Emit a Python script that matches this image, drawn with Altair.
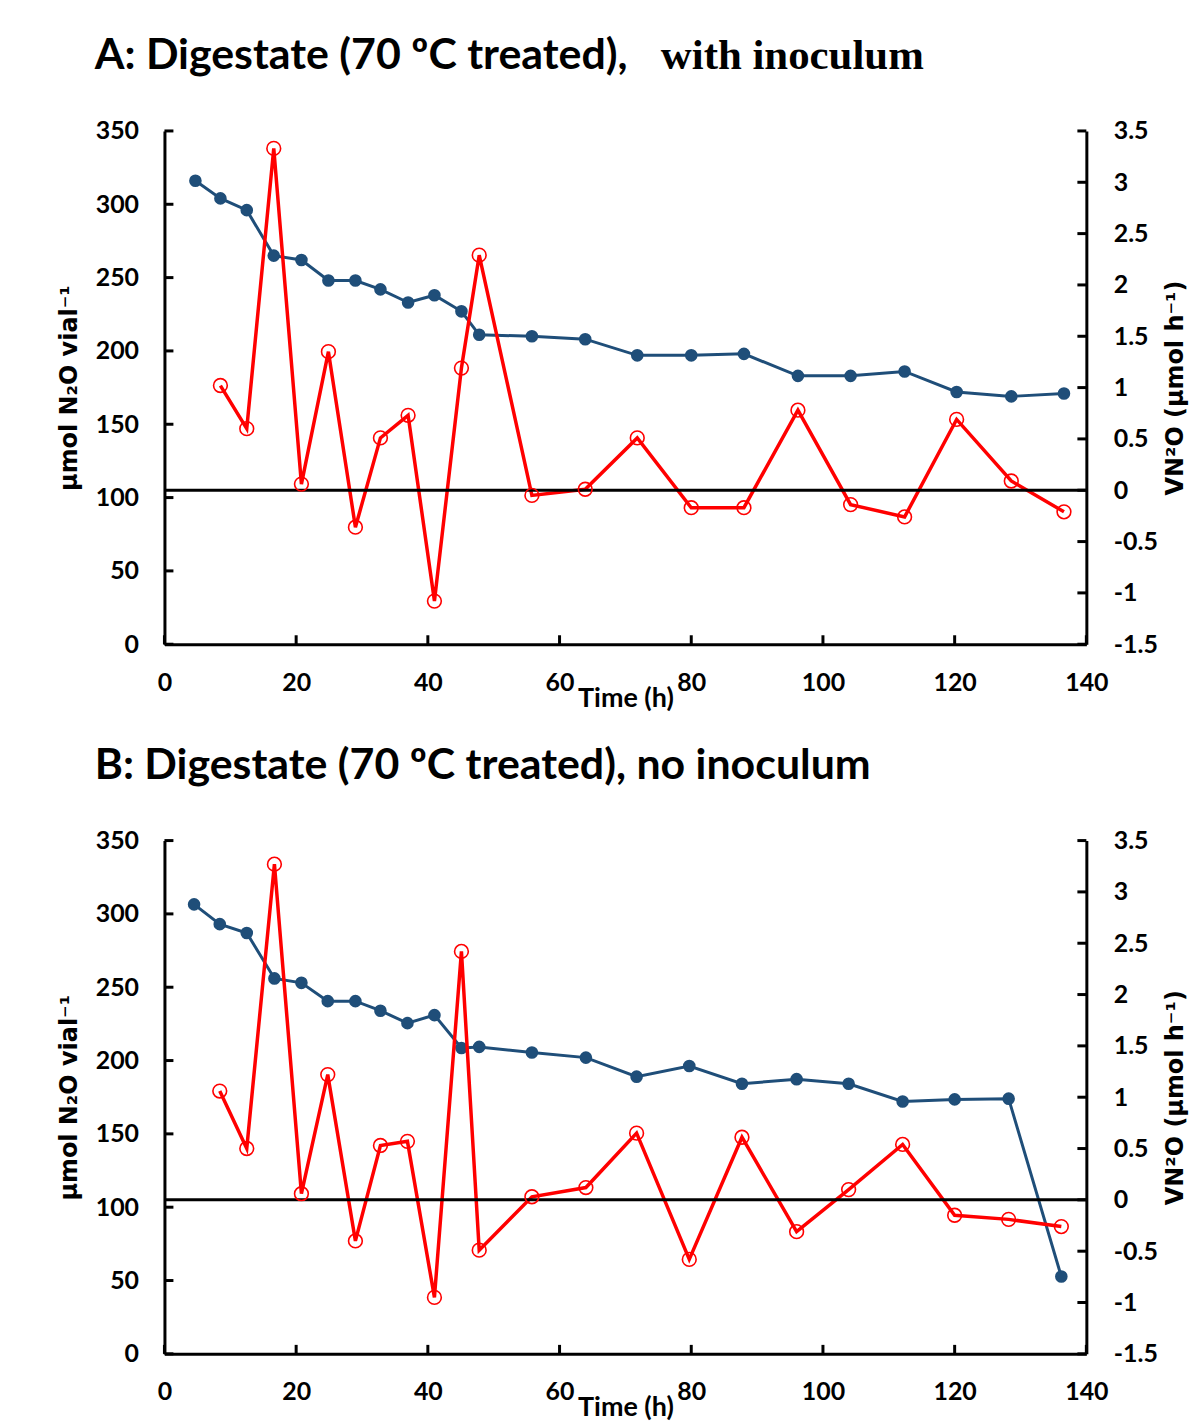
import altair as alt
import pandas as pd

# ---------------- data ----------------
time_a = [4.7, 8.5, 12.5, 16.6, 20.8, 24.9, 29.0, 32.8, 37.0, 41.0, 45.1, 47.8,
          55.8, 63.9, 71.8, 80.0, 88.0, 96.2, 104.2, 112.4, 120.3, 128.6, 136.6]
n2o_a = [316, 304, 296, 265, 262, 248, 248, 242, 233, 238, 227, 211,
         210, 208, 197, 197, 198, 183, 183, 186, 172, 169, 171]
rate_a = [None, 1.02, 0.60, 3.33, 0.06, 1.35, -0.36, 0.51, 0.73, -1.08, 1.19, 2.29,
          -0.05, 0.01, 0.51, -0.17, -0.17, 0.78, -0.14, -0.26, 0.69, 0.09, -0.21]

time_b = [4.5, 8.4, 12.5, 16.7, 20.8, 24.8, 29.0, 32.8, 36.9, 41.0, 45.1, 47.8,
          55.8, 64.0, 71.7, 79.7, 87.7, 96.0, 103.9, 112.1, 120.0, 128.2, 136.2]
n2o_b = [306.5, 293, 287, 256, 253, 240.5, 240.5, 234, 225.5, 231, 208.6, 209.3,
         205.5, 202, 189, 196.3, 184.2, 187.3, 184.2, 172.1, 173.5, 174, 52.7]
rate_b = [None, 1.06, 0.50, 3.27, 0.06, 1.22, -0.40, 0.53, 0.57, -0.95, 2.42, -0.49,
          0.03, 0.12, 0.65, -0.58, 0.61, -0.31, 0.10, 0.54, -0.15, -0.19, -0.26]

x_ticks = [0, 20, 40, 60, 80, 100, 120, 140]
left_ticks = [0, 50, 100, 150, 200, 250, 300, 350]
right_ticks = [-1.5, -1, -0.5, 0, 0.5, 1, 1.5, 2, 2.5, 3, 3.5]
zero_line = [0]

title_a = "A: Digestate (70 ºC treated),"
title_a_extra = "with inoculum"
title_b = "B: Digestate (70 ºC treated), no inoculum"

# ---------------- style ----------------
W, H = 925, 515
FONT = "Lato"
YFONT = "DejaVu Sans"
BLUE = "#1F4E79"
RED = "#FF0000"
TICK = 9

x_scale = alt.Scale(domain=[0, 140], nice=False, zero=False)
l_scale = alt.Scale(domain=[0, 350], nice=False)
r_scale = alt.Scale(domain=[-1.5, 3.5], nice=False, zero=False)

x_axis = alt.Axis(values=x_ticks, title="Time (h)", orient="bottom",
                  titleY=54, titleBaseline="middle", labelPadding=26,
                  titleFontSize=27, labelFlush=False, labelOverlap=False)
left_axis = alt.Axis(values=left_ticks, title="µmol N₂O vial⁻¹", orient="left",
                     titleX=-95, titleY=H / 2, titleBaseline="middle",
                     titleFont=YFONT, titleFontSize=24,
                     titleAngle=270, labelPadding=26, labelExpr="toString(datum.value)")
right_axis = alt.Axis(values=right_ticks, title="VN²O (µmol h⁻¹)", orient="right",
                      titleX=89, titleY=H / 2, titleBaseline="middle",
                      titleFont=YFONT, titleFontSize=24,
                      titleAngle=270, labelPadding=27, labelExpr="toString(datum.value)")


def X(field):
    return alt.X(field, scale=x_scale, axis=x_axis)


def YL(field):
    return alt.Y(field, scale=l_scale, axis=left_axis)


def YR(field):
    return alt.Y(field, scale=r_scale, axis=right_axis)


def label_mark(text, x, y, **kw):
    return alt.Chart(pd.DataFrame({"label": [text]})).mark_text(
        align="left", baseline="alphabetic", **kw).encode(
        text="label:N", x=alt.value(x), y=alt.value(y))


def panel(time, n2o, rate, title, extra=None):
    df = pd.DataFrame({"t": time, "n2o": n2o, "rate": rate})
    base = alt.Chart(df)

    blue_line = base.mark_line(color=BLUE, strokeWidth=3).encode(
        x=X("t:Q"), y=YL("n2o:Q"))
    blue_pts = base.mark_circle(color=BLUE, size=160, opacity=1).encode(
        x=X("t:Q"), y=YL("n2o:Q"))
    lt = alt.Chart(pd.DataFrame({"v": left_ticks})).mark_rule(
        color="black", strokeWidth=3).encode(
        y=YL("v:Q"), x=alt.value(0), x2=alt.value(TICK))
    xt = alt.Chart(pd.DataFrame({"v": x_ticks})).mark_rule(
        color="black", strokeWidth=3).encode(
        x=X("v:Q"), y=alt.value(H - TICK), y2=alt.value(H))

    ttl = label_mark(title, -70, -62, font=FONT, fontSize=43,
                     fontWeight="bold", color="black")
    left_layers = [blue_line, blue_pts, lt, xt, ttl]
    if extra:
        left_layers.append(label_mark(extra, 498, -62, font="Liberation Serif",
                                      fontSize=43, fontWeight="bold", color="black"))
    left = alt.layer(*left_layers)

    zl = alt.Chart(pd.DataFrame({"v": zero_line})).mark_rule(
        color="black", strokeWidth=3).encode(
        y=YR("v:Q"), x=alt.value(0), x2=alt.value(W))
    red_line = base.mark_line(color=RED, strokeWidth=3.5).encode(
        x=X("t:Q"), y=YR("rate:Q"))
    red_pts = base.mark_point(shape="circle", filled=False, color=RED, size=190,
                              strokeWidth=1.6, opacity=1).encode(
        x=X("t:Q"), y=YR("rate:Q"))
    rt = alt.Chart(pd.DataFrame({"v": right_ticks})).mark_rule(
        color="black", strokeWidth=3).encode(
        y=YR("v:Q"), x=alt.value(W - TICK), x2=alt.value(W))
    right = alt.layer(red_line, zl, red_pts, rt)

    return alt.layer(left, right).resolve_scale(y="independent").properties(
        width=W, height=H)


chart = alt.vconcat(
    panel(time_a, n2o_a, rate_a, title_a, title_a_extra),
    panel(time_b, n2o_b, rate_b, title_b),
    spacing=34,
).properties(
    padding={"left": 58, "top": 33, "right": 5, "bottom": 2},
    background="white",
).configure_view(stroke=None).configure_axis(
    labelFont=FONT, labelFontSize=25, labelFontWeight="bold", labelColor="black",
    titleFont=FONT, titleFontSize=24, titleFontWeight="bold", titleColor="black",
    domainColor="black", domainWidth=3, ticks=False, grid=False,
)

chart.save("out.html", embed_options={"renderer": "svg", "actions": False})
